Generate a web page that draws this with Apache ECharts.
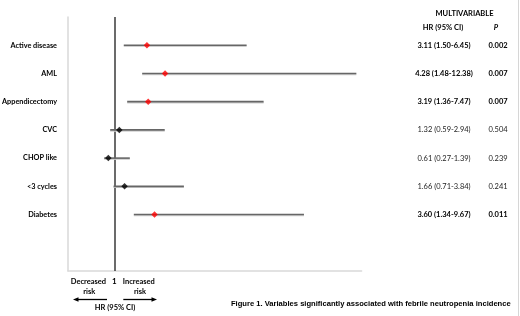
<!DOCTYPE html>
<html><head><meta charset="utf-8">
<script src="https://cdn.jsdelivr.net/npm/echarts@6/dist/echarts.min.js"></script>
<style>html,body{margin:0;padding:0;background:#fff}#c{width:520px;height:316px}</style>
</head><body><div id="c"></div>
<script>
const variables = ['Active disease', 'AML', 'Appendicectomy', 'CVC', 'CHOP like', '<3 cycles', 'Diabetes'];
const hr = [3.11, 4.28, 3.19, 1.32, 0.61, 1.66, 3.60];
const ciLow = [1.50, 1.48, 1.36, 0.59, 0.27, 0.71, 1.34];
const ciHigh = [6.45, 12.38, 7.47, 2.94, 1.39, 3.84, 9.67];
const pValues = ['0.002', '0.007', '0.007', '0.504', '0.239', '0.241', '0.011'];
const significant = [true, true, true, false, false, false, true];
// whisker ends as drawn in the picture (axis units)
const barStart = [1.61, 2.80, 1.83, 0.73, 0.34, 0.95, 2.26];
const barEnd = [9.56, 16.66, 10.66, 4.26, 2.00, 5.50, 13.27];
const xTicks = [1];

const rows = [' '].concat(variables, ['  ', '   ']);
const FONT = 'Lato';

function rowFmt(texts) {
  return function (v, i) {
    const k = i - 1;
    if (k < 0 || k >= variables.length) return '';
    return (significant[k] ? '{b|' : '{n|') + texts[k] + '}';
  };
}
const hrTexts = hr.map((v, i) => v.toFixed(2) + ' (' + ciLow[i].toFixed(2) + '-' + ciHigh[i].toFixed(2) + ')');
const rich = {
  b: { fontFamily: FONT, fontWeight: 'bold', fontSize: 7.5, color: '#000' },
  n: { fontFamily: FONT, fontWeight: 'normal', fontSize: 7.5, color: '#222' }
};

const chart = echarts.init(document.getElementById('c'), null, { renderer: 'canvas' });
const gridLeft = 68, gridRight = 158.4;

chart.setOption({
  animation: false,
  backgroundColor: '#fff',
  grid: { left: gridLeft, right: gridRight, top: 17, bottom: 45, containLabel: false, outerBoundsMode: 'none' },
  xAxis: {
    type: 'value', min: -2, max: 17,
    axisLine: { show: true, onZero: false, lineStyle: { color: '#d9d9d9', width: 1.5 } },
    axisTick: { show: false },
    splitLine: { show: false },
    axisLabel: { customValues: xTicks, margin: 6, fontFamily: FONT, fontWeight: 'bold', fontSize: 8, color: '#000' }
  },
  yAxis: [
    {
      type: 'category', data: rows, inverse: true, boundaryGap: false,
      axisLine: { show: true, onZero: false, lineStyle: { color: '#d9d9d9', width: 1.5 } },
      axisTick: { show: false },
      axisLabel: { margin: 11, fontFamily: FONT, fontWeight: 'bold', fontSize: 7.3, color: '#000', interval: 0 }
    },
    {
      type: 'category', data: rows, inverse: true, boundaryGap: false, position: 'right',
      axisLine: { show: false }, axisTick: { show: false },
      axisLabel: { margin: 82.4, align: 'center', interval: 0, formatter: rowFmt(hrTexts), rich: rich }
    },
    {
      type: 'category', data: rows, inverse: true, boundaryGap: false, position: 'right', offset: 0,
      axisLine: { show: false }, axisTick: { show: false },
      axisLabel: { margin: 136.4, align: 'center', interval: 0, formatter: rowFmt(pValues), rich: rich }
    }
  ],
  series: [
    {
      type: 'custom',
      z: 2,
      encode: { x: [0, 1], y: 2 },
      data: variables.map((n, i) => [barStart[i], barEnd[i], n]),
      renderItem: function (params, api) {
        const p1 = api.coord([api.value(0), api.value(2)]);
        const p2 = api.coord([api.value(1), api.value(2)]);
        return {
          type: 'group',
          children: [
            { type: 'line', shape: { x1: p1[0], y1: p1[1] + 1, x2: p2[0], y2: p2[1] + 1 }, style: { stroke: '#d0d0d0', lineWidth: 1.5 } },
            { type: 'line', shape: { x1: p1[0], y1: p1[1], x2: p2[0], y2: p2[1] }, style: { stroke: '#666666', lineWidth: 1.6 } }
          ]
        };
      }
    },
    {
      type: 'scatter',
      z: 4,
      symbol: 'diamond',
      symbolSize: 6.5,
      data: hr.map((v, i) => ({ value: [v, variables[i]], itemStyle: { color: significant[i] ? '#ff0000' : '#000000' } })),
      markLine: {
        silent: true, symbol: 'none', z: 1,
        label: { show: false },
        lineStyle: { color: '#3a3a3a', width: 1.5, type: 'solid' },
        data: [{ xAxis: 1 }]
      }
    }
  ],
  graphic: [
    { type: 'text', x: 464.5, y: 14, style: { text: 'MULTIVARIABLE', font: 'bold 7.5px ' + FONT, fill: '#000', align: 'center', verticalAlign: 'middle' } },
    { type: 'text', x: 443, y: 28, style: { text: 'HR (95% CI)', font: 'bold 7.5px ' + FONT, fill: '#000', align: 'center', verticalAlign: 'middle' } },
    { type: 'text', x: 496, y: 28, style: { text: 'P', font: 'italic bold 7.5px ' + FONT, fill: '#000', align: 'center', verticalAlign: 'middle' } },
    { type: 'text', x: 88.4, y: 282, style: { text: 'Decreased', font: 'bold 7.5px ' + FONT, fill: '#000', align: 'center', verticalAlign: 'middle' } },
    { type: 'text', x: 89.3, y: 291.7, style: { text: 'risk', font: 'bold 7.5px ' + FONT, fill: '#000', align: 'center', verticalAlign: 'middle' } },
    { type: 'text', x: 138.8, y: 282, style: { text: 'Increased', font: 'bold 7.5px ' + FONT, fill: '#000', align: 'center', verticalAlign: 'middle' } },
    { type: 'text', x: 140, y: 291.7, style: { text: 'risk', font: 'bold 7.5px ' + FONT, fill: '#000', align: 'center', verticalAlign: 'middle' } },
    { type: 'text', x: 115, y: 307.5, style: { text: 'HR (95% CI)', font: 'bold 7.5px ' + FONT, fill: '#000', align: 'center', verticalAlign: 'middle' } },
    { type: 'line', shape: { x1: 107, y1: 299.5, x2: 77, y2: 299.5 }, style: { stroke: '#000', lineWidth: 1.3 } },
    { type: 'polygon', shape: { points: [[73, 299.5], [78.5, 297.2], [78.5, 301.8]] }, style: { fill: '#000' } },
    { type: 'line', shape: { x1: 123.3, y1: 299.5, x2: 153, y2: 299.5 }, style: { stroke: '#000', lineWidth: 1.3 } },
    { type: 'polygon', shape: { points: [[157, 299.5], [151.5, 297.2], [151.5, 301.8]] }, style: { fill: '#000' } },
    { type: 'text', x: 370.8, y: 304, style: { text: 'Figure 1. Variables significantly associated with febrile neutropenia incidence', font: 'bold 7.6px "Liberation Sans"', fill: '#000', align: 'center', verticalAlign: 'middle' } },
    { type: 'line', shape: { x1: 518.5, y1: 0, x2: 518.5, y2: 316 }, style: { stroke: '#d6d6d6', lineWidth: 1 } }
  ]
});
</script>
</body></html>
